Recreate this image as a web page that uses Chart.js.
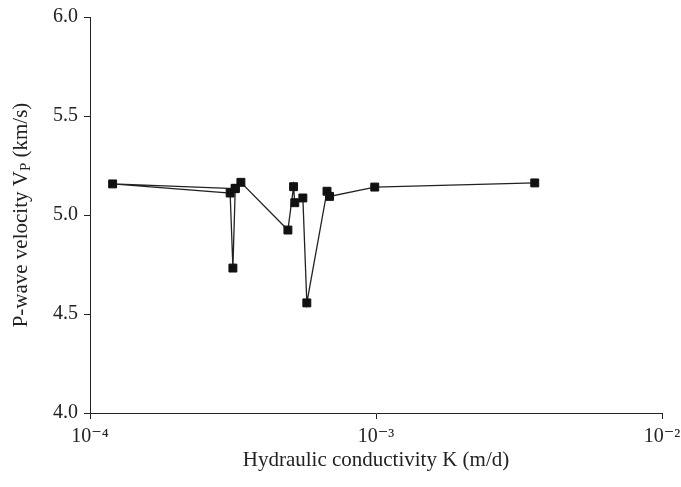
<!DOCTYPE html>
<html>
<head>
<meta charset="utf-8">
<script src="https://cdn.jsdelivr.net/npm/chart.js@4.4.1/dist/chart.umd.min.js"></script>
<style>
  html, body { margin: 0; padding: 0; background: #fff; }
  #wrap { width: 681px; height: 487px; }
</style>
</head>
<body>
<div id="wrap"><canvas id="chart" width="681" height="487"></canvas></div>
<script>
// Valores (orden de la polilinea)
const conductivity = [3.22e-4, 1.2e-4, 3.09e-4, 3.16e-4, 3.22e-4, 3.37e-4, 4.92e-4, 5.15e-4, 5.2e-4, 5.55e-4, 5.73e-4, 6.74e-4, 6.88e-4, 9.9e-4, 3.59e-3];
const velocity = [5.133, 5.157, 5.111, 4.732, 5.135, 5.165, 4.924, 5.143, 5.062, 5.086, 4.556, 5.12, 5.094, 5.141, 5.162];
const xTicks = [1e-4, 1e-3, 1e-2];
const xTickLabels = ['10\u207B\u2074', '10\u207B\u00B3', '10\u207B\u00B2'];
const yTicks = [4.0, 4.5, 5.0, 5.5, 6.0];

const FONT = '"Liberation Serif", "DejaVu Serif", serif';
const INK = '#222';

// Titulos de ejes dibujados a mano (subindice en V_P)
const axisTitles = {
    id: 'axisTitles',
    afterDraw(chart) {
        const ctx = chart.ctx;
        const area = chart.chartArea;
        ctx.save();
        ctx.fillStyle = INK;
        ctx.textBaseline = 'middle';
        ctx.textAlign = 'center';
        ctx.font = '21px ' + FONT;
        ctx.fillText('Hydraulic conductivity K (m/d)', (area.left + area.right) / 2, 460);

        // titulo vertical
        const parts = [
            { t: 'P-wave velocity V', size: 21, dy: 0 },
            { t: 'P', size: 15, dy: 5 },
            { t: ' (km/s)', size: 21, dy: 0 }
        ];
        let total = 0;
        parts.forEach(p => { ctx.font = p.size + 'px ' + FONT; p.w = ctx.measureText(p.t).width; total += p.w; });
        ctx.translate(21, (area.top + area.bottom) / 2);
        ctx.rotate(-Math.PI / 2);
        ctx.textAlign = 'left';
        let x = -total / 2;
        parts.forEach(p => {
            ctx.font = p.size + 'px ' + FONT;
            ctx.fillText(p.t, x, p.dy);
            x += p.w;
        });
        ctx.restore();
    }
};

const ctx = document.getElementById('chart').getContext('2d');
new Chart(ctx, {
    type: 'scatter',
    data: {
        datasets: [{
            data: conductivity.map((k, i) => ({ x: k, y: velocity[i] })),
            showLine: true,
            borderColor: INK,
            borderWidth: 1.3,
            backgroundColor: '#111',
            pointStyle: 'rect',
            pointRadius: 5.6,
            pointBorderWidth: 1,
            pointBorderColor: '#111',
            pointBackgroundColor: '#111'
        }]
    },
    options: {
        responsive: false,
        animation: false,
        layout: { padding: { top: 17, right: 19, left: 0, bottom: 0 } },
        plugins: { legend: { display: false }, tooltip: { enabled: false } },
        scales: {
            x: {
                type: 'logarithmic',
                min: 1e-4,
                max: 1e-2,
                afterBuildTicks(scale) {
                    scale.ticks = xTicks.map(v => ({ value: v }));
                },
                afterFit(scale) {
                    scale.height = 74;
                    scale.paddingLeft = 0;
                    scale.paddingRight = 0;
                },
                grid: { display: true, drawOnChartArea: false, drawTicks: true, tickLength: 6, color: INK },
                border: { display: true, color: INK, width: 1 },
                ticks: {
                    autoSkip: false,
                    maxRotation: 0,
                    padding: 6,
                    color: INK,
                    font: { family: FONT, size: 20 },
                    callback: (v) => xTickLabels[xTicks.indexOf(v)] ?? ''
                }
            },
            y: {
                min: 4,
                max: 6,
                afterBuildTicks(scale) {
                    scale.ticks = yTicks.map(v => ({ value: v }));
                },
                afterFit(scale) {
                    scale.width = 90;
                    scale.paddingTop = 0;
                    scale.paddingBottom = 0;
                },
                grid: { display: true, drawOnChartArea: false, drawTicks: true, tickLength: 6, color: INK },
                border: { display: true, color: INK, width: 1 },
                ticks: {
                    padding: 6,
                    color: INK,
                    font: { family: FONT, size: 20 },
                    callback: (v) => v.toFixed(1)
                }
            }
        }
    },
    plugins: [axisTitles]
});
</script>
</body>
</html>
